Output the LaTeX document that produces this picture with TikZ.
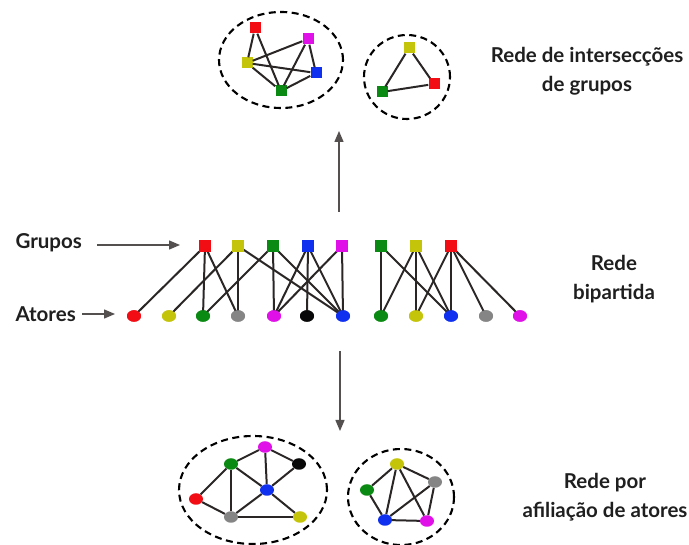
\documentclass[tikz,border=0pt]{standalone}
\usepackage{fontspec}
\setmainfont{Lato}
\usetikzlibrary{shapes.geometric,arrows.meta}
\definecolor{cred}{HTML}{F20D14}
\definecolor{cyel}{HTML}{C4C40A}
\definecolor{cgrn}{HTML}{0A8A12}
\definecolor{cblu}{HTML}{1030F0}
\definecolor{cmag}{HTML}{E010E8}
\definecolor{cgry}{HTML}{858585}
\definecolor{cblk}{HTML}{080808}
\definecolor{lnc}{HTML}{2A2626}
\definecolor{arc}{HTML}{555050}
\tikzset{
  grp/.style={rectangle,minimum size=11pt,inner sep=0pt,fill=#1},
  act/.style={ellipse,minimum width=14pt,minimum height=11.5pt,inner sep=0pt,fill=#1},
  lnk/.style={draw=lnc,line width=2pt},
  cloud/.style={draw=black,line width=2.1pt,dash pattern=on 7pt off 4.5pt},
  lbl/.style={font=\fontsize{20.5}{29}\selectfont\bfseries,text=black!88,align=center},
  arr/.style={draw=arc,line width=1.4pt,-{Triangle[length=11pt,width=9pt]}}
}
\begin{document}
\begin{tikzpicture}[x=1pt,y=-1pt]
\useasboundingbox (0,0) rectangle (689,545);
% ---------- bipartite network ----------
\foreach \n/\x/\c in {g1/205/cred,g2/238/cyel,g3/273/cgrn,g4/308/cblu,g5/342/cmag,g6/381/cgrn,g7/416/cyel,g8/451/cred}
  \node[grp=\c] (\n) at (\x,246) {};
\foreach \n/\x/\c in {a1/134/cred,a2/169/cyel,a3/203/cgrn,a4/238/cgry,a5/274/cmag,a6/307/cblk,a7/343/cblu,a8/381/cgrn,a9/416/cyel,a10/451/cblu,a11/486/cgry,a12/520/cmag}
  \node[act=\c] (\n) at (\x,316) {};
\foreach \g/\a in {g1/a1,g1/a3,g1/a4,g2/a2,g2/a4,g2/a7,g3/a3,g3/a5,g3/a7,g4/a5,g4/a6,g4/a7,g5/a5,g5/a7,g6/a8,g6/a10,g7/a8,g7/a9,g7/a10,g8/a9,g8/a10,g8/a11,g8/a12}
  \draw[lnk] (\g.center) -- (\a.center);
% redraw nodes on top
\foreach \n/\c in {g1/cred,g2/cyel,g3/cgrn,g4/cblu,g5/cmag,g6/cgrn,g7/cyel,g8/cred}
  \fill[\c] (\n.south west) rectangle (\n.north east);
\foreach \n/\c in {a1/cred,a2/cyel,a3/cgrn,a4/cgry,a5/cmag,a6/cblk,a7/cblu,a8/cgrn,a9/cyel,a10/cblu,a11/cgry,a12/cmag}
  \fill[\c] (\n.center) ellipse (7pt and 5.75pt);
% labels left
\node[lbl,anchor=west] (grupos) at (12,243) {Grupos};
\node[lbl,anchor=west] (atores) at (12,314) {Atores};
\coordinate (gs) at (97,245);
\coordinate (ge) at (180,245);
\coordinate (as) at (82,314);
\coordinate (ae) at (115,314);
\draw[arr] (gs) -- (ge);
\draw[arr] (as) -- (ae);
% ---------- group intersection network ----------
\node[cloud,ellipse,minimum width=124pt,minimum height=96pt] (c1) at (281,60) {};
\node[cloud,ellipse,minimum width=86pt,minimum height=84pt] (c2) at (407,77) {};
\node[grp=cred] (t1) at (255,28) {};
\node[grp=cmag] (t5) at (308,39) {};
\node[grp=cyel] (t2) at (247,63) {};
\node[grp=cblu] (t4) at (316,73) {};
\node[grp=cgrn] (t3) at (281,91) {};
\node[grp=cyel] (t7) at (409,48) {};
\node[grp=cred] (t8) at (434,84) {};
\node[grp=cgrn] (t6) at (382,92) {};
\foreach \p/\q in {t1/t2,t1/t3,t2/t5,t2/t4,t2/t3,t5/t3,t5/t4,t3/t4,t7/t6,t7/t8,t6/t8}
  \draw[lnk] (\p) -- (\q);
% ---------- actor affiliation network ----------
\node[cloud,ellipse,minimum width=148pt,minimum height=108pt] (c3) at (253,490) {};
\node[cloud,ellipse,minimum width=106pt,minimum height=96pt] (c4) at (401,497) {};
\node[act=cmag] (b5) at (265,447) {};
\node[act=cgrn] (b3) at (231,464) {};
\node[act=cblk] (b6) at (299,464) {};
\node[act=cblu] (b7) at (267,490) {};
\node[act=cred] (b1) at (196,499) {};
\node[act=cgry] (b4) at (231,517) {};
\node[act=cyel] (b2) at (300,517) {};
\node[act=cyel] (d9) at (397,464) {};
\node[act=cgry] (d11) at (435,482) {};
\node[act=cgrn] (d8) at (367,490) {};
\node[act=cblu] (d10) at (385,520) {};
\node[act=cmag] (d12) at (427,521) {};
\foreach \p/\q in {b1/b3,b1/b4,b3/b4,b2/b4,b2/b7,b4/b7,b3/b5,b3/b7,b5/b7,b5/b6,b6/b7,
  d8/d10,d8/d9,d9/d10,d9/d11,d9/d12,d10/d11,d10/d12,d11/d12}
  \draw[lnk] (\p) -- (\q);
% ---------- vertical arrows ----------
\coordinate (us) at (339,212);
\coordinate (ue) at (339,131);
\coordinate (ds) at (340,351);
\coordinate (de) at (340,431);
\draw[arr] (us) -- (ue);
\draw[arr] (ds) -- (de);
% ---------- right labels ----------
\node[lbl] (l1) at (587,71) {Rede de intersecções\\de grupos};
\node[lbl] (l2) at (614,279) {Rede\\bipartida};
\node[lbl] (l3) at (605,497) {Rede por\\afiliação de atores};
\end{tikzpicture}
\end{document}
